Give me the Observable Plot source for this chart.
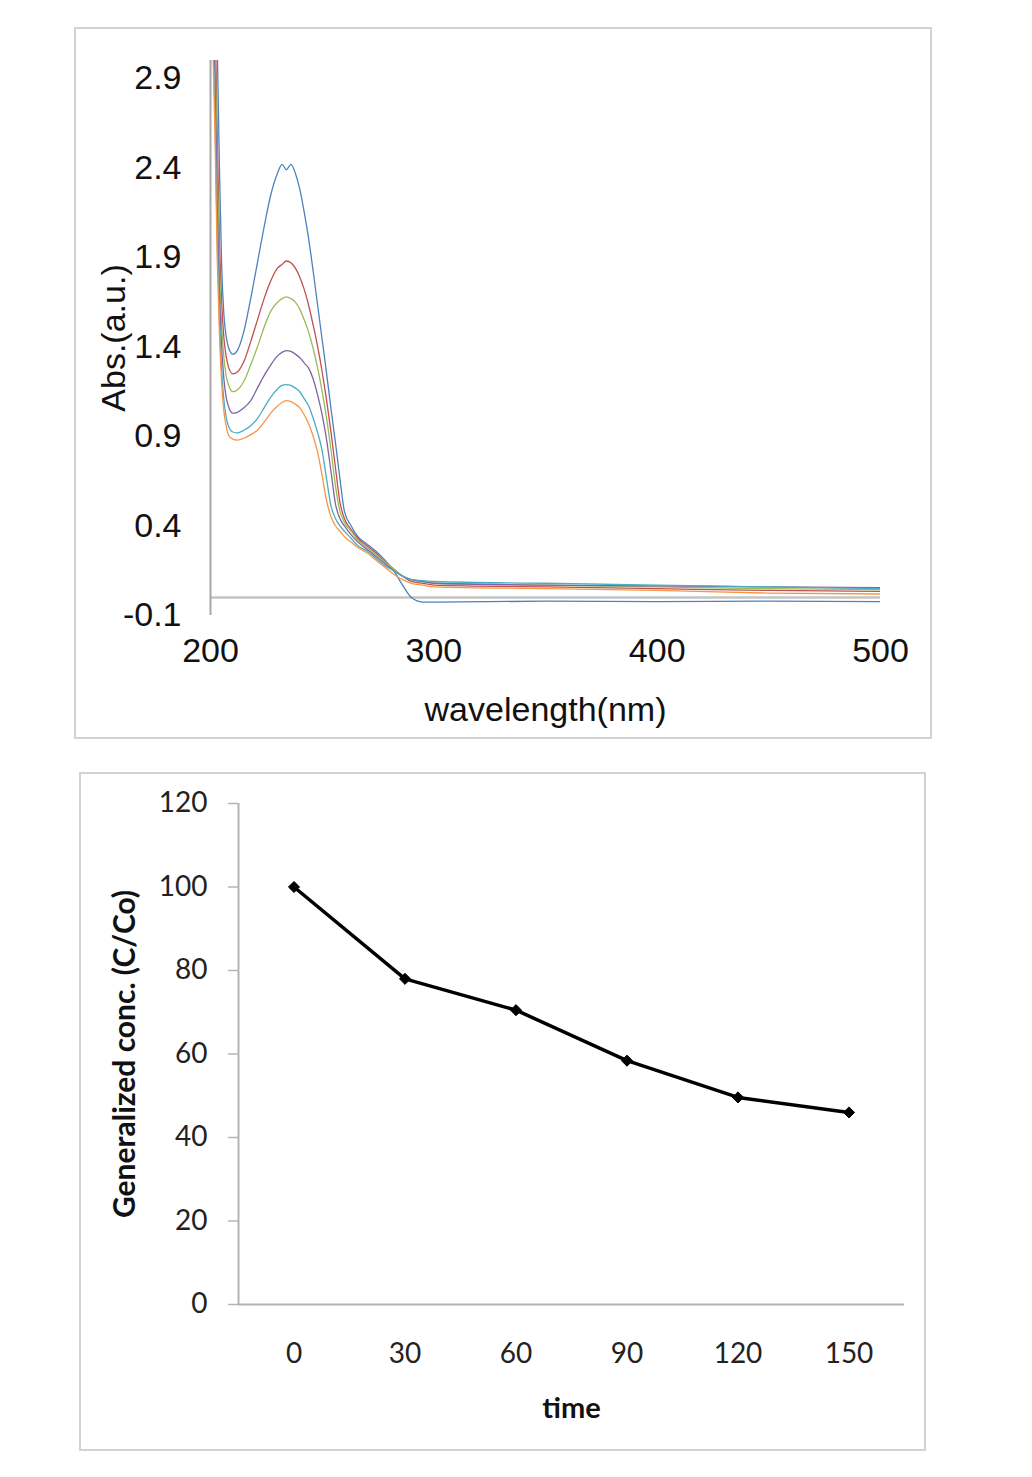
<!DOCTYPE html>
<html><head><meta charset="utf-8">
<script src="https://cdn.jsdelivr.net/npm/d3@7"></script>
<script src="https://cdn.jsdelivr.net/npm/@observablehq/plot@0.6"></script>
<style>
body{margin:0;background:#fff;}
#page{position:relative;width:1032px;height:1477px;background:#fff;overflow:hidden;}
.frame{position:absolute;border:2px solid #d2d2d2;box-sizing:border-box;}
.chart{position:absolute;}
.chart svg{display:block;overflow:visible;}
</style></head>
<body><div id="page">
<div class="frame" style="left:74px;top:27px;width:858px;height:712px"></div>
<div class="frame" style="left:79px;top:772px;width:847px;height:679px"></div>
<div class="chart" id="top" style="left:75px;top:28px"></div>
<div class="chart" id="bottom" style="left:80px;top:773px"></div>
</div>
<script>
// ---------- Top chart: UV-Vis spectra ----------
const wavelength = [200,202,203,204,205,206,207,208,210,212,215,218,221,224,227,230,232,234,236,238,240,242,244,246,248,250,252,254,256,258,260,263,266,270,274,278,282,286,290,295,300,350,400,450,500];
const absBlue   = [4.5,3.6,3.1,2.4,1.85,1.58,1.46,1.40, 1.36,1.38,1.49,1.67,1.87,2.07,2.25,2.37, 2.42,2.39,2.42,2.37,2.28,2.15,2.00,1.82, 1.63,1.44,1.25,1.05,0.86,0.66,0.48,0.40, 0.34,0.30,0.26,0.21,0.15,0.07,0.00,-0.025, -0.025,-0.02,-0.022,-0.02,-0.022];
const absRed    = [4.2,3.3,2.6,2.0,1.65,1.45,1.35,1.29, 1.25,1.26,1.32,1.43,1.55,1.67,1.77,1.84, 1.86,1.88,1.87,1.84,1.79,1.72,1.63,1.52, 1.40,1.26,1.10,0.92,0.72,0.53,0.44,0.38, 0.33,0.29,0.25,0.20,0.16,0.12,0.09,0.08, 0.07,0.06,0.05,0.04,0.035];
const absGreen  = [4.0,3.1,2.4,1.85,1.52,1.34,1.24,1.19, 1.15,1.16,1.21,1.30,1.40,1.51,1.60,1.65, 1.67,1.68,1.67,1.65,1.61,1.55,1.48,1.39, 1.28,1.15,1.00,0.82,0.62,0.48,0.42,0.37, 0.32,0.28,0.24,0.20,0.16,0.12,0.10,0.09, 0.08,0.07,0.06,0.05,0.045];
const absPurple = [3.9,2.9,2.2,1.7,1.4,1.22,1.12,1.07, 1.03,1.035,1.06,1.10,1.17,1.24,1.30,1.35, 1.37,1.38,1.375,1.36,1.34,1.31,1.28,1.22, 1.13,1.02,0.88,0.70,0.52,0.44,0.40,0.35, 0.31,0.27,0.23,0.19,0.15,0.12,0.10,0.09, 0.08,0.07,0.065,0.06,0.055];
const absAqua   = [3.7,2.7,2.0,1.55,1.27,1.10,1.01,0.96, 0.925,0.92,0.935,0.96,1.00,1.06,1.12,1.165, 1.185,1.19,1.185,1.17,1.15,1.11,1.07,1.00, 0.92,0.82,0.66,0.51,0.44,0.40,0.37,0.33, 0.29,0.26,0.22,0.18,0.15,0.12,0.10,0.095, 0.09,0.08,0.07,0.06,0.05];
const absOrange = [3.6,2.6,1.9,1.47,1.2,1.04,0.96,0.91, 0.885,0.88,0.89,0.91,0.935,0.98,1.03,1.07, 1.09,1.10,1.095,1.08,1.06,1.02,0.97,0.90, 0.81,0.68,0.54,0.45,0.40,0.37,0.34,0.31, 0.28,0.25,0.21,0.17,0.13,0.10,0.08,0.07, 0.06,0.05,0.04,0.025,0.02];
const seriesNames = ["s1","s2","s3","s4","s5","s6"];
const seriesColors = ["#4F81BD","#C0504D","#9BBB59","#8064A2","#4BACC6","#F79646"];
const xTicksTop = [200,300,400,500];
const yTicksTop = [-0.1,0.4,0.9,1.4,1.9,2.4,2.9];

const seriesValues = [absBlue,absRed,absGreen,absPurple,absAqua,absOrange];
const spectra = [];
seriesValues.forEach((vals,k) => vals.forEach((v,i) => spectra.push({wl: wavelength[i], abs: v, s: seriesNames[k]})));

const topChart = Plot.plot({
  width: 855, height: 710,
  marginLeft: 135, marginRight: 50, marginTop: 32, marginBottom: 123,
  style: {fontFamily: "'Liberation Sans', Arial, sans-serif", fontSize: "34px", color: "#111", background: "transparent"},
  x: {domain: [200, 500]},
  y: {domain: [-0.1, 3.0]},
  color: {type: "ordinal", domain: seriesNames, range: seriesColors},
  marks: [
    Plot.ruleY([0], {stroke: "#c4c4c4", strokeWidth: 2.5}),
    Plot.ruleX([200], {stroke: "#a8a8a8", strokeWidth: 2}),
    Plot.line(spectra, {x: "wl", y: "abs", z: "s", stroke: "s", strokeWidth: 1.3, curve: "monotone-x", clip: true}),
    Plot.axisX({ticks: xTicksTop, tickSize: 0, tickPadding: 22, label: null, tickFormat: d => String(d)}),
    Plot.axisY({ticks: yTicksTop, tickSize: 0, tickPadding: 29, label: null, tickFormat: d => d.toFixed(1)}),
    Plot.text(["Abs.(a.u.)"], {text: d => d, frameAnchor: "left", textAnchor: "middle", lineAnchor: "middle", rotate: -90, dx: -96, fontSize: 34}),
    Plot.text(["wavelength(nm)"], {text: d => d, frameAnchor: "bottom", textAnchor: "middle", lineAnchor: "middle", dy: 95, fontSize: 34})
  ]
});
document.getElementById("top").appendChild(topChart);

// ---------- Bottom chart: generalized concentration vs time ----------
const times = [0,30,60,90,120,150];
const conc = [100,78,70.5,58.4,49.6,46];
const yTicksBottom = [0,20,40,60,80,100,120];
const concData = times.map((t,i) => ({t, c: conc[i]}));

const bottomChart = Plot.plot({
  width: 845, height: 677,
  marginLeft: 158, marginRight: 21, marginTop: 30, marginBottom: 146,
  style: {fontFamily: "Lato, 'Open Sans', sans-serif", fontSize: "28px", color: "#222", background: "transparent"},
  x: {domain: [-15, 165]},
  y: {domain: [0, 120]},
  marks: [
    Plot.ruleY([0], {stroke: "#b4b4b4", strokeWidth: 2}),
    Plot.ruleX([-15], {stroke: "#b4b4b4", strokeWidth: 2}),
    Plot.axisY({ticks: yTicksBottom, tickSize: 10, tickPadding: 21, stroke: "#b4b4b4", strokeWidth: 1.5, label: null}),
    Plot.axisX({ticks: times, tickSize: 0, tickPadding: 39, label: null, tickFormat: d => String(d)}),
    Plot.line(concData, {x: "t", y: "c", stroke: "#000", strokeWidth: 3.5}),
    Plot.dot(concData, {x: "t", y: "c", symbol: "diamond2", r: 5, fill: "#000", stroke: "#000", strokeWidth: 1}),
    Plot.text(["Generalized conc. (C/Co)"], {text: d => d, frameAnchor: "left", textAnchor: "middle", lineAnchor: "middle", rotate: -90, dx: -113, fontSize: 30, fontWeight: "bold", fill: "#111"}),
    Plot.text(["time"], {text: d => d, frameAnchor: "bottom", textAnchor: "middle", lineAnchor: "middle", dy: 104, fontSize: 29, fontWeight: "bold", fill: "#111"})
  ]
});
document.getElementById("bottom").appendChild(bottomChart);
</script>
</body></html>
